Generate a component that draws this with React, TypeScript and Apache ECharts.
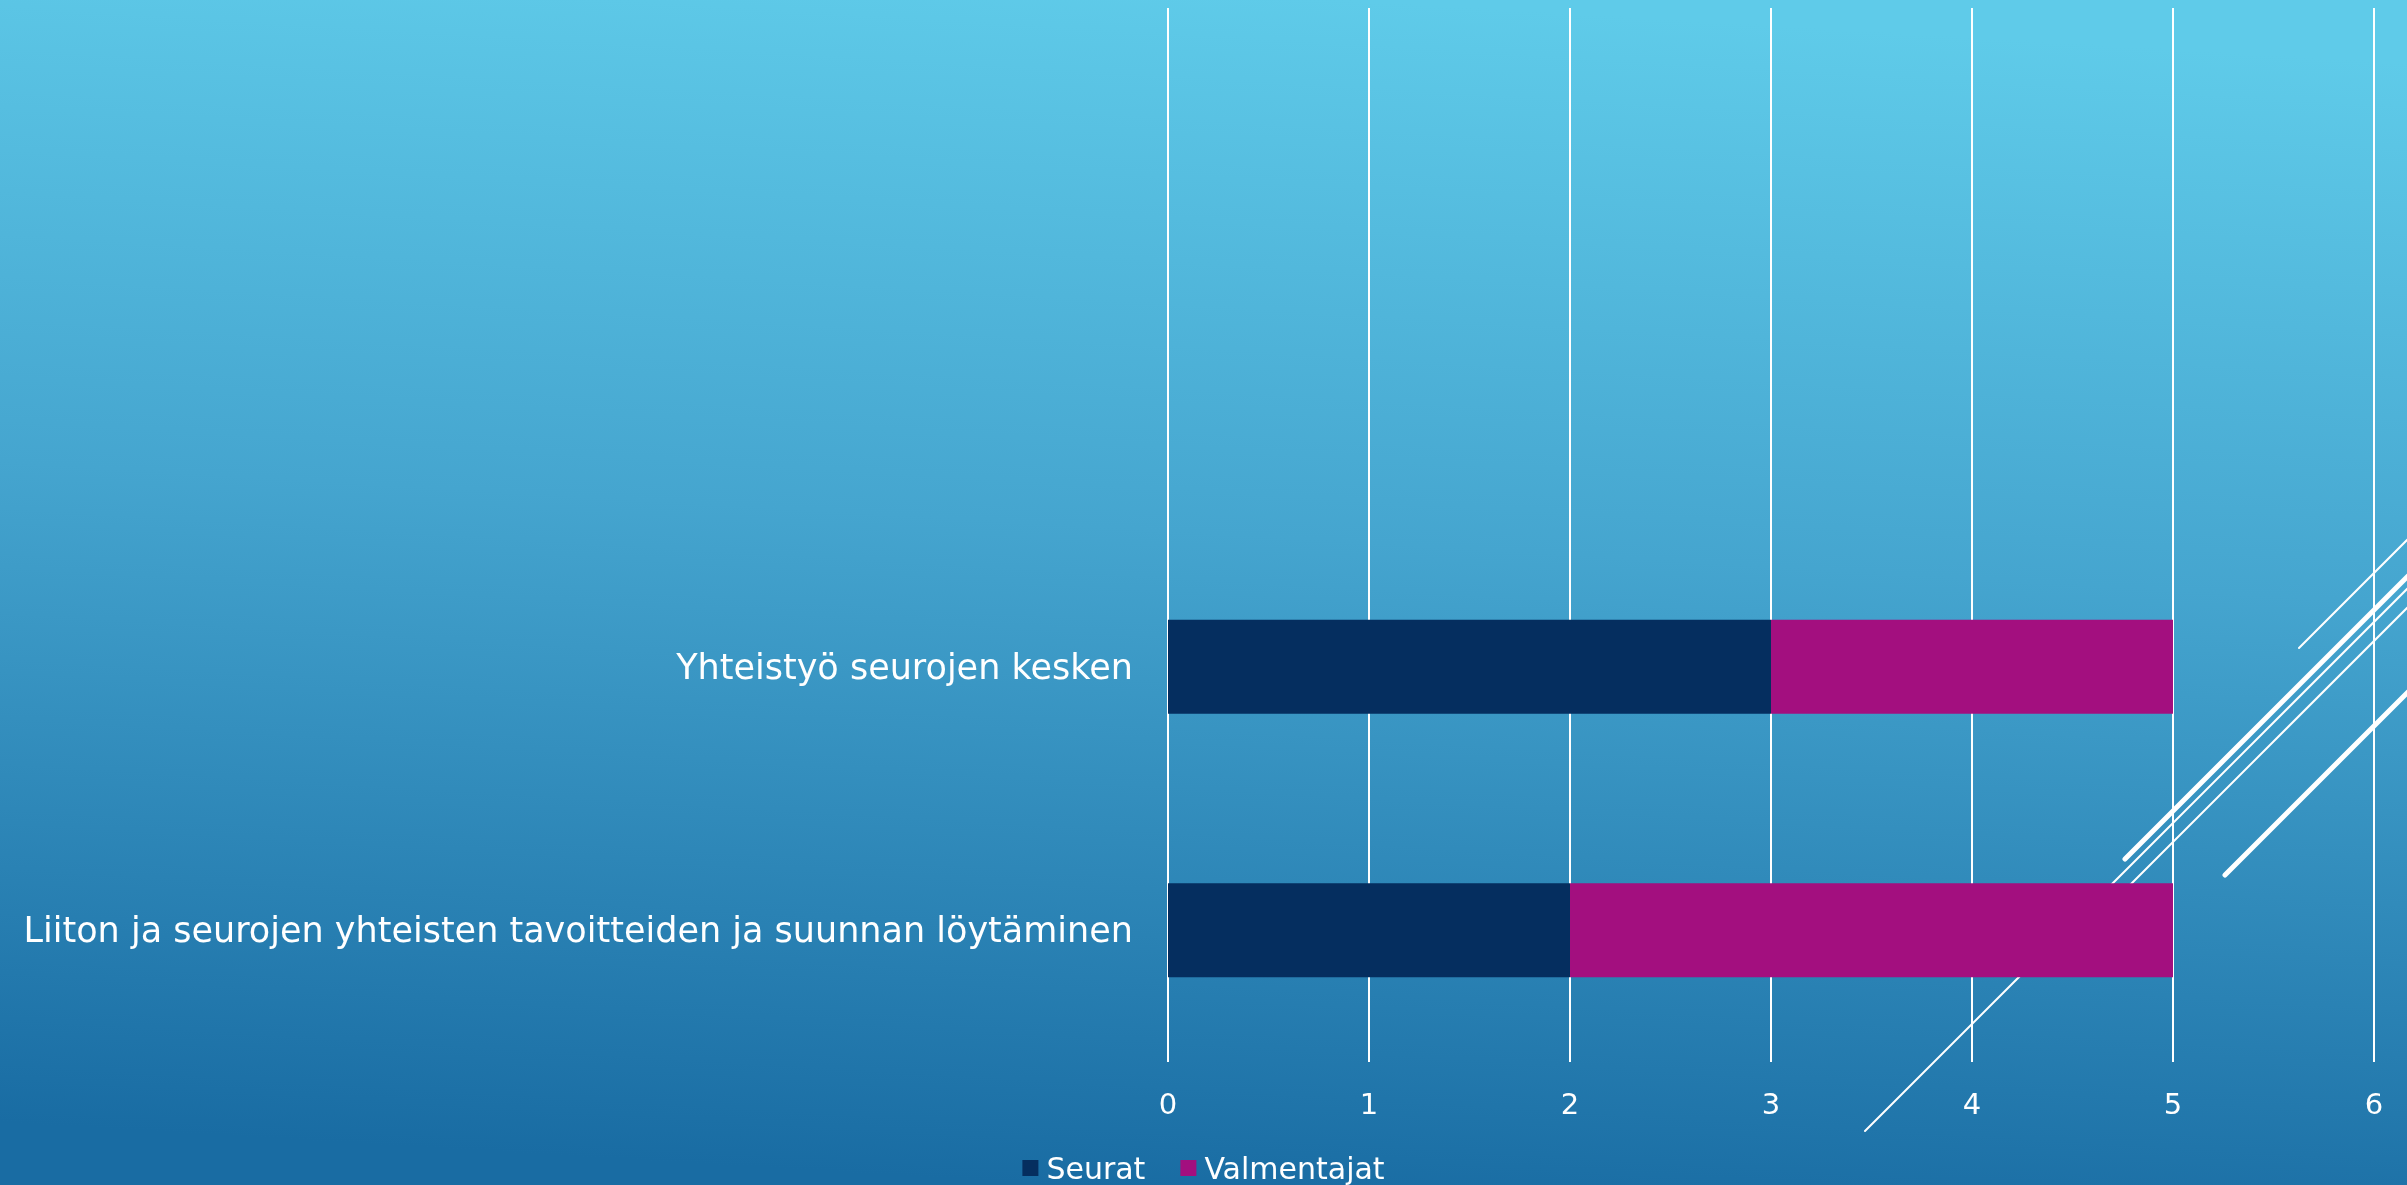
import React, { useEffect, useRef } from "react";
import * as echarts from "echarts";

const categories = [
  "Liiton ja seurojen yhteisten tavoitteiden ja suunnan löytäminen",
  "Yhteistyö seurojen kesken",
  "",
  "",
];
const seuratValues = [2, 3, null, null];
const valmentajatValues = [3, 2, null, null];
const seriesNames = ["Seurat", "Valmentajat"];
const xTicks = { min: 0, max: 6, interval: 1 };

const W = 2407;
const H = 1185;
const FONT = "'DejaVu Sans', 'Noto Sans', sans-serif";

export default function App() {
  const ref = useRef<HTMLDivElement>(null);
  useEffect(() => {
    document.body.style.margin = "0";
    if (!ref.current) return;
    const chart = echarts.init(ref.current, undefined, { renderer: "svg", width: W, height: H });
    const deco = (x1: number, y1: number, x2: number, y2: number, w: number) => ({
      type: "line",
      z: -5,
      silent: true,
      shape: { x1, y1, x2, y2 },
      style: { stroke: "#ffffff", lineWidth: w, lineCap: "round" },
    });
    chart.setOption({
      animation: false,
      textStyle: { fontFamily: FONT },
      graphic: [
        {
          type: "rect",
          z: -10,
          silent: true,
          shape: { x: 0, y: 0, width: W, height: H },
          style: {
            fill: new echarts.graphic.LinearGradient(0.56, 0, 0.44, 1, [
              { offset: 0, color: "#5fcbe9" },
              { offset: 0.45, color: "#45a5cf" },
              { offset: 1, color: "#196ca3" },
            ]),
          },
        },
        deco(2299, 648, 2420, 527, 2),
        deco(2125, 859, 2420, 564, 5),
        deco(1865, 1131, 2420, 576, 2),
        deco(2115, 900, 2420, 595, 2),
        deco(2225, 875, 2420, 680, 5),
      ],
      grid: { left: 1168, right: 33, top: 8, bottom: 123, containLabel: false },
      legend: {
        data: seriesNames,
        left: "center",
        top: 1148,
        icon: "rect",
        itemWidth: 16,
        itemHeight: 16,
        itemGap: 35,
        textStyle: {
          color: "#ffffff",
          fontSize: 30,
          lineHeight: 30,
          fontFamily: FONT,
          padding: [0, 0, 0, 3],
        },
      },
      xAxis: {
        type: "value",
        min: xTicks.min,
        max: xTicks.max,
        interval: xTicks.interval,
        axisLine: { show: false },
        axisTick: { show: false },
        splitLine: { show: true, lineStyle: { color: "#ffffff", width: 2 } },
        axisLabel: { color: "#ffffff", fontSize: 29, margin: 27, fontFamily: FONT },
      },
      yAxis: {
        type: "category",
        data: categories,
        axisLine: { show: false },
        axisTick: { show: false },
        splitLine: { show: false },
        axisLabel: { color: "#ffffff", fontSize: 35, margin: 35, fontFamily: FONT },
      },
      series: [
        {
          name: seriesNames[0],
          type: "bar",
          stack: "total",
          data: seuratValues,
          barCategoryGap: "64.3%",
          itemStyle: { color: "#052e5f" },
        },
        {
          name: seriesNames[1],
          type: "bar",
          stack: "total",
          data: valmentajatValues,
          barCategoryGap: "64.3%",
          itemStyle: { color: "#a30f7f" },
        },
      ],
    });
    return () => chart.dispose();
  }, []);
  return <div ref={ref} style={{ width: W, height: H, position: "fixed", left: 0, top: 0 }} />;
}
